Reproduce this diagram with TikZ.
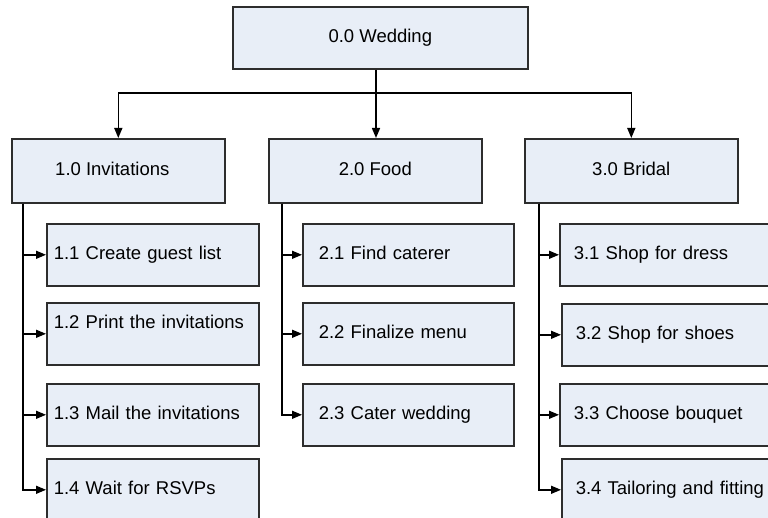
\documentclass[tikz,border=0pt]{standalone}
\usepackage{fontspec}
\setmainfont{Liberation Sans}
\usetikzlibrary{arrows.meta}
\definecolor{boxfill}{RGB}{232,238,247}
\definecolor{boxline}{RGB}{45,45,45}
\begin{document}
\begin{tikzpicture}[x=1pt,y=-1pt,
  box/.style={draw=boxline, fill=boxfill, line width=1.6pt, rectangle, inner sep=0pt,
    anchor=north west, font=\fontsize{18.5}{22}\selectfont, text height=13.5pt, text depth=4pt},
  topbox/.style={box, minimum width=213pt, minimum height=64pt},
  kidA/.style={box, minimum height=62pt, align=left, text width=198pt, inner xsep=7pt},
  kidB/.style={box, minimum height=62pt, align=left, text width=179pt, inner xsep=16pt},
  kidC/.style={box, minimum height=62pt, align=left, text width=200pt, inner xsep=14pt},
  conn/.style={line width=1.5pt, black},
  arr/.style={conn, -{Triangle[length=10pt,width=8pt]}}]
\useasboundingbox (0,0) rectangle (768,518);
\begin{scope}
\clip (0,0) rectangle (768,518);
% root
\node[box, minimum width=295pt, minimum height=62pt] (root) at (232,6) {0.0 Wedding};
% level 1
\node[topbox] (inv) at (11,138) {1.0 Invitations\hspace*{12pt}};
\node[topbox] (food) at (268,138) {2.0 Food};
\node[topbox] (bridal) at (524,138) {3.0 Bridal};
% level 2
\node[kidA] (c11) at (46,223) {1.1 Create guest list};
\node[kidA, text depth=24pt] (c12) at (46,302) {1.2 Print the invitations};
\node[kidA] (c13) at (46,383) {1.3 Mail the invitations};
\node[kidA] (c14) at (46,458) {1.4 Wait for RSVPs};
\node[kidB] (c21) at (302,223) {2.1 Find caterer};
\node[kidB] (c22) at (302,302) {2.2 Finalize menu};
\node[kidB] (c23) at (302,383) {2.3 Cater wedding};
\node[kidC] (c31) at (559,223) {3.1 Shop for dress};
\node[kidC] (c32) at (561,303) {3.2 Shop for shoes};
\node[kidC] (c33) at (559,383) {3.3 Choose bouquet};
\node[kidC] (c34) at (561,458) {3.4 Tailoring and fitting};
% top connectors
\coordinate (hub) at (376,93);
\draw[conn] (root.south -| hub) -- (hub);
\draw[arr] (hub) -| (inv.north);
\draw[arr] (hub) -| (bridal.north);
\draw[arr] (hub) -- (hub |- food.north);
% child connectors
\foreach \k in {c11,c12,c13,c14}
  \draw[arr] ([xshift=12pt]inv.south west) |- (\k.west);
\foreach \k in {c21,c22,c23}
  \draw[arr] ([xshift=14pt]food.south west) |- (\k.west);
\foreach \k in {c31,c32,c33,c34}
  \draw[arr] ([xshift=15pt]bridal.south west) |- (\k.west);
\end{scope}
\end{tikzpicture}
\end{document}
